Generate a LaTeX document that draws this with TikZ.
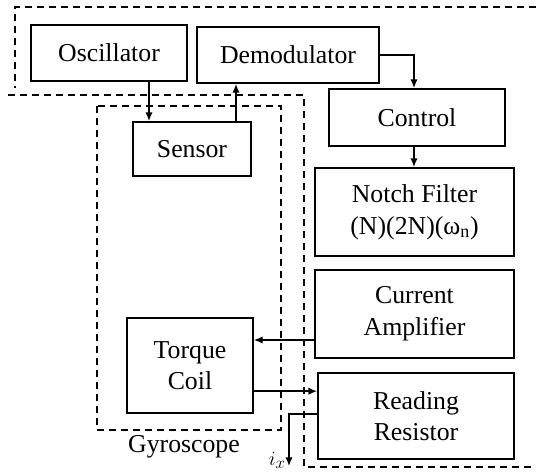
\documentclass[tikz,border=0pt]{standalone}
\usepackage{fontspec}
\setmainfont{Liberation Serif}
\usetikzlibrary{arrows.meta}
\begin{document}
\begin{tikzpicture}[x=0.03cm, y=-0.03cm,
  txt/.style={font=\fontsize{22}{27}\selectfont},
  blk/.style={draw, txt, line width=1.6pt, inner sep=0pt, align=center},
  arr/.style={-{Latex[length=2.6mm, width=2.2mm]}, line width=1.2pt},
  grp/.style={line width=1.3pt, dash pattern=on 0.21cm off 0.15cm}]
\useasboundingbox (0,0) rectangle (536,475);
\draw[grp] (536,7) -- (15,7) -- (15,88);
\draw[grp] (8,95) -- (304,95) -- (304,467) -- (536,467);
\draw[grp] (97,106) rectangle (281,430);
\node[blk, minimum width=4.68cm, minimum height=1.68cm] (osc) at (109,53) {Oscillator};
\node[blk, minimum width=5.46cm, minimum height=1.68cm] (demod) at (288,55) {Demodulator};
\node[blk, minimum width=3.54cm, minimum height=1.62cm] (sensor) at (192,149) {Sensor};
\node[blk, minimum width=5.28cm, minimum height=1.71cm] (control) at (417,117.5) {Control};
\node[blk, minimum width=5.97cm, minimum height=2.64cm] (notch) at (414.5,212) {Notch Filter\\(N)(2N)(ω\textsubscript{n})};
\node[blk, minimum width=5.97cm, minimum height=2.64cm] (amp) at (414.5,314) {Current\\Amplifier};
\node[blk, minimum width=3.78cm, minimum height=2.85cm] (torque) at (190,365.5) {Torque\\Coil};
\node[blk, minimum width=5.88cm, minimum height=2.58cm] (resistor) at (416,416) {Reading\\Resistor};
\node[txt] (gyro) at (184,447) {Gyroscope};
\coordinate (o1) at ([xshift=1.2cm]osc.south);
\coordinate (s1) at ([xshift=1.32cm]sensor.north);
\coordinate (c0) at ([xshift=-0.09cm]control.north);
\coordinate (c1) at ([xshift=-0.09cm]control.south);
\coordinate (a1) at ([yshift=-0.78cm]amp.west);
\coordinate (t1) at ([yshift=-0.77cm]torque.east);
\coordinate (r1) at ([yshift=0.06cm]resistor.west);
\coordinate (ix) at (289,466);
\draw[arr] (o1) -- (o1 |- sensor.north);
\draw[arr] (s1) -- (s1 |- demod.south);
\draw[arr] (demod.east) -| (c0);
\draw[arr] (c1) -- (c1 |- notch.north);
\draw[arr] (a1) -- (a1 -| torque.east);
\draw[arr] (t1) -- (t1 -| resistor.west);
\draw[arr] (r1) -| (ix);
\node[txt, anchor=east, inner sep=1pt, font=\fontsize{19}{22}\selectfont] (ixl) at (287,460) {$i_x$};
\end{tikzpicture}
\end{document}
